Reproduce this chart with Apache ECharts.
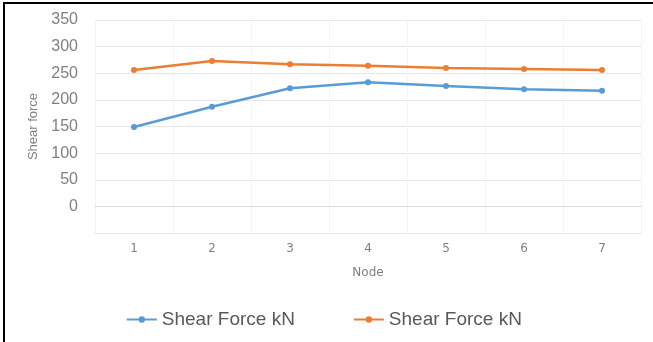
<!DOCTYPE html>
<html><head><meta charset="utf-8">
<script src="https://cdn.jsdelivr.net/npm/echarts@6/dist/echarts.min.js"></script>
<style>html,body{margin:0;padding:0;background:#fff}#c{width:653px;height:342px}</style>
</head><body><div id="c"></div>
<script>
const nodes = ['1','2','3','4','5','6','7'];
const shearBlue = [149, 187, 222, 233, 226, 220, 217];
const shearOrange = [256, 273, 267, 264, 260, 258, 256];
const seriesNames = ['Shear Force kN', 'Shear Force kN '];
const yAxisTitle = 'Shear force';
const xAxisTitle = 'Node';

const chart = echarts.init(document.getElementById('c'));
const txt = '#7f7f7f';
chart.setOption({
  animation: false,
  graphic: [
    {type:'rect', shape:{x:3,y:2,width:2,height:340}, style:{fill:'#000'}, silent:true},
    {type:'rect', shape:{x:3,y:2,width:650,height:2}, style:{fill:'#000'}, silent:true}
  ],
  grid: {left: 95, right: 12, top: 20, bottom: 109},
  legend: {
    bottom: 8, left: 'center', itemGap: 58, itemWidth: 30, itemHeight: 8,
    textStyle: {color: '#595959', fontSize: 19, fontFamily: 'Liberation Sans'},
    data: seriesNames
  },
  xAxis: {
    type: 'category', data: nodes, boundaryGap: true,
    name: xAxisTitle, nameLocation: 'middle', nameGap: 34,
    nameTextStyle: {color: txt, fontSize: 12, fontFamily: 'DejaVu Sans'},
    axisLine: {lineStyle: {color: '#d9d9d9'}},
    axisTick: {show: false},
    axisLabel: {color: txt, fontSize: 12, margin: 10, fontFamily: 'DejaVu Sans'},
    splitLine: {show: true, lineStyle: {color: '#f4f4f4'}}
  },
  yAxis: {
    type: 'value', min: -50, max: 350, interval: 50,
    name: yAxisTitle, nameLocation: 'middle', nameGap: 55,
    nameTextStyle: {color: txt, fontSize: 13, fontFamily: 'Liberation Sans'},
    axisLine: {show: false}, axisTick: {show: false},
    axisLabel: {color: txt, fontSize: 16, margin: 17, fontFamily: 'Liberation Sans',
      formatter: v => v < 0 ? '' : String(v)},
    splitLine: {lineStyle: {color: '#e6e6e6'}}
  },
  series: [
    {name: seriesNames[0], type: 'line', data: shearBlue, symbol: 'circle', symbolSize: 6,
     lineStyle: {width: 2.5, color: '#5b9bd5'}, itemStyle: {color: '#5b9bd5'}},
    {name: seriesNames[1], type: 'line', data: shearOrange, symbol: 'circle', symbolSize: 6,
     lineStyle: {width: 2.5, color: '#ed7d31'}, itemStyle: {color: '#ed7d31'}}
  ]
});
</script></body></html>
